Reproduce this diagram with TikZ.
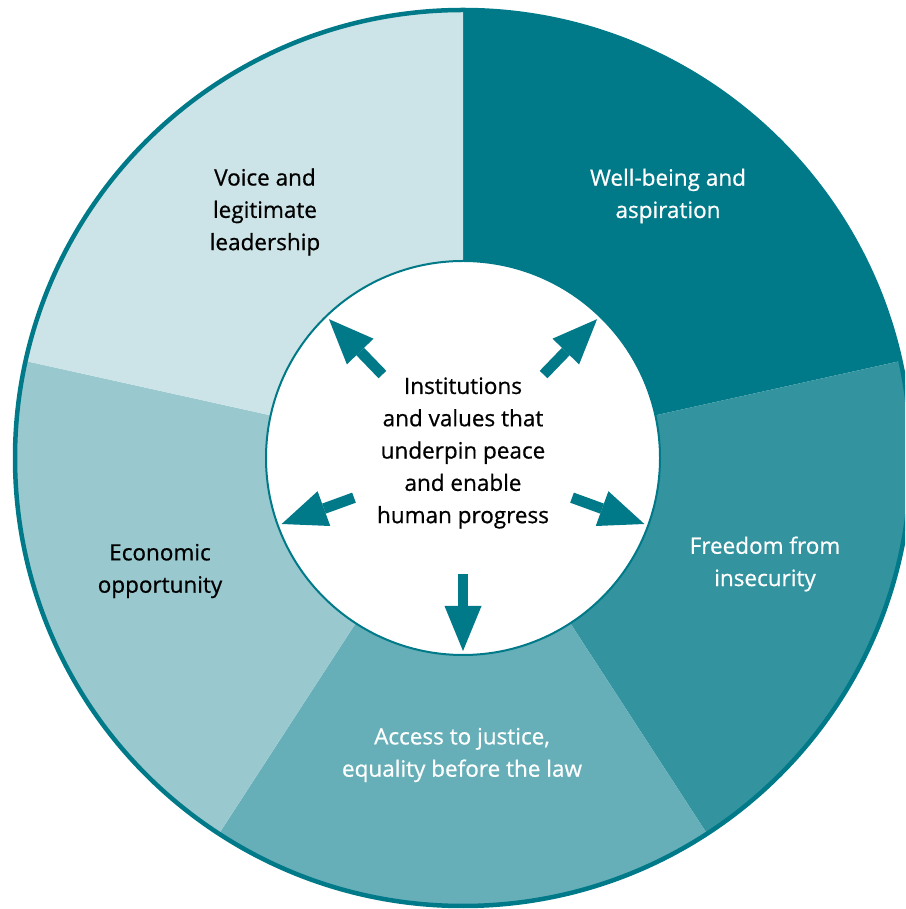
\documentclass[tikz,border=0pt]{standalone}
\usepackage{fontspec}
\setmainfont{Open Sans}
\newfontfamily\lblfont[FakeBold=0.7]{Open Sans}
\usetikzlibrary{arrows.meta}
\definecolor{teal0}{RGB}{0,121,136}
\begin{document}
\begin{tikzpicture}[x=1pt,y=1pt,
  lbl/.style={align=center, font=\lblfont\fontsize{22.5}{32.3}\selectfont, inner sep=0pt},
  wht/.style={lbl, text=white},
  blk/.style={lbl, text=black},
  blockarrow/.style={draw=teal0, line width=10.7pt, -{Triangle[length=45pt,width=37pt,line width=0pt]}}]
\useasboundingbox (0,0) rectangle (905,909);
\clip (0,0) rectangle (905,909);
\coordinate (c) at (463,451);
% segments
\fill[teal0] (c) -- +(12.5:448) arc[start angle=12.5,end angle=90,radius=448] -- cycle;
\fill[teal0!80!white] (c) -- +(-57:448) arc[start angle=-57,end angle=12.5,radius=448] -- cycle;
\fill[teal0!60!white] (c) -- +(-123:448) arc[start angle=-123,end angle=-57,radius=448] -- cycle;
\fill[teal0!40!white] (c) -- +(167.5:448) arc[start angle=167.5,end angle=237,radius=448] -- cycle;
\fill[teal0!20!white] (c) -- +(90:448) arc[start angle=90,end angle=167.5,radius=448] -- cycle;
\draw[teal0, line width=4.5pt] (c) circle[radius=448];
\node[circle, draw=teal0, line width=2pt, fill=white, minimum size=394pt, inner sep=0pt] (hub) at (c) {};
% arrows
\foreach \a/\n in {134/ul,46/ur,200/l,-20/r,-90/d}{
  \coordinate (s\n) at ([shift={(\a:116)}]c);
  \coordinate (e\n) at ([shift={(\a:193)}]c);
  \draw[blockarrow] (s\n) -- (e\n);
}
% labels
\node[blk] (hubtxt) at (463,456) {Institutions\\and values that\\underpin peace\\and enable\\human progress};
\node[blk] (voice) at (265,697) {Voice and\\legitimate\\leadership};
\node[wht] (well) at (668,713) {Well-being and\\aspiration};
\node[wht] (free) at (765,345) {Freedom from\\insecurity};
\node[blk] (econ) at (160,338) {Economic\\opportunity};
\node[wht] (acc) at (462,154) {Access to justice,\\equality before the law};
\end{tikzpicture}
\end{document}
